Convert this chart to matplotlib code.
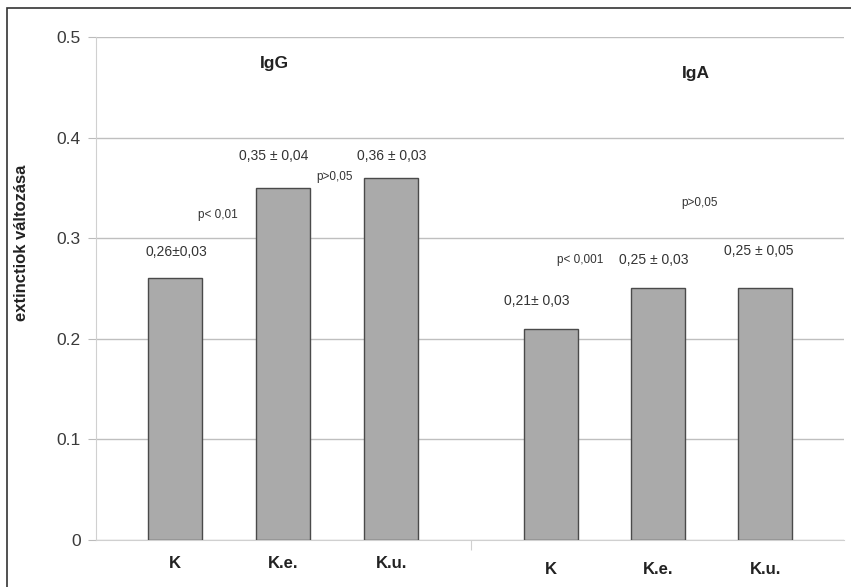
import numpy as np
import matplotlib.pyplot as plt
from matplotlib.patches import Rectangle
from matplotlib.transforms import blended_transform_factory

plt.rcParams['font.family'] = ['Liberation Sans', 'DejaVu Sans']

# Daten
kategorien = ['K', 'K.e.', 'K.u.']
csoportok = ['IgG', 'IgA']
igg = [0.26, 0.35, 0.36]
iga = [0.21, 0.25, 0.25]
igg_felirat = ['0,26±0,03', '0,35 ± 0,04', '0,36 ± 0,03']
iga_felirat = ['0,21± 0,03', '0,25 ± 0,03', '0,25 ± 0,05']
p_igg = ['p< 0,01', 'p>0,05']
p_iga = ['p< 0,001', 'p>0,05']

eltolas = 3.48  # Abstand der zweiten Gruppe
x1 = np.arange(len(kategorien))
x2 = x1 * 0.99 + eltolas

fig = plt.figure(figsize=(8.51, 5.87), dpi=100)
ax = fig.add_axes([0.1128, 0.0801, 0.8790, 0.8569])
fig.patches.append(Rectangle((0.008, -0.1), 1.2, 1.086, transform=fig.transFigure,
                             fill=False, edgecolor='#333333', linewidth=1.2))

szurke = '#aaaaaa'
ax.bar(x1, igg, width=0.5, color=szurke, edgecolor='#4a4a4a', linewidth=1, zorder=3)
ax.bar(x2, iga, width=0.5, color=szurke, edgecolor='#4a4a4a', linewidth=1, zorder=3)

ax.set_xlim(-0.73, 6.19)
ax.set_ylim(0, 0.5)
ax.set_yticks(np.arange(0, 0.51, 0.1))
ax.set_yticklabels(['0', '0.1', '0.2', '0.3', '0.4', '0.5'], fontsize=12.5, color='#3a3a3a')
ax.tick_params(axis='y', length=6, color='#bbbbbb', pad=5)
ax.yaxis.grid(True, color='#bfbfbf', linewidth=1, zorder=0)
for s in ['top', 'right']:
    ax.spines[s].set_visible(False)
ax.spines['left'].set_color('#d0d0d0')
ax.spines['bottom'].set_color('#d0d0d0')

# Kategorie-Beschriftungen
ax.set_xticks([2.74])
ax.set_xticklabels([''])
ax.tick_params(axis='x', length=7, color='#d0d0d0')
tr = blended_transform_factory(ax.transData, ax.transAxes)
for x, k in zip(x1, kategorien):
    ax.text(x, -0.046, k, transform=tr, ha='center', va='center',
            fontsize=12, fontweight='bold', color='#222222')
for x, k in zip(x2, kategorien):
    ax.text(x, -0.058, k, transform=tr, ha='center', va='center',
            fontsize=12, fontweight='bold', color='#222222')

# Werte
y_igg = [0.286, 0.382, 0.382]
xo_igg = [0.01, -0.09, 0.01]
for x, y, dx, t in zip(x1, y_igg, xo_igg, igg_felirat):
    ax.text(x + dx, y, t, ha='center', va='center', fontsize=10, color='#333333')
y_iga = [0.238, 0.278, 0.287]
xo_iga = [-0.13, -0.04, -0.06]
for x, y, dx, t in zip(x2, y_iga, xo_iga, iga_felirat):
    ax.text(x + dx, y, t, ha='center', va='center', fontsize=10, color='#333333')

ax.text(0.40, 0.323, p_igg[0], ha='center', va='center', fontsize=8.5, color='#333333')
ax.text(1.48, 0.361, p_igg[1], ha='center', va='center', fontsize=8.5, color='#333333')
ax.text(3.75, 0.278, p_iga[0], ha='center', va='center', fontsize=8.5, color='#333333')
ax.text(4.85, 0.335, p_iga[1], ha='center', va='center', fontsize=8.5, color='#333333')

ax.text(0.92, 0.474, csoportok[0], ha='center', va='center', fontsize=12.5,
        fontweight='bold', color='#222222')
ax.text(4.82, 0.464, csoportok[1], ha='center', va='center', fontsize=12.5,
        fontweight='bold', color='#222222')

ax.text(-0.099, 0.59, 'extinctiok változása', transform=ax.transAxes, rotation=90,
        ha='center', va='center', fontsize=12, fontweight='bold', color='#222222')

fig.savefig('out.png', dpi=100)
